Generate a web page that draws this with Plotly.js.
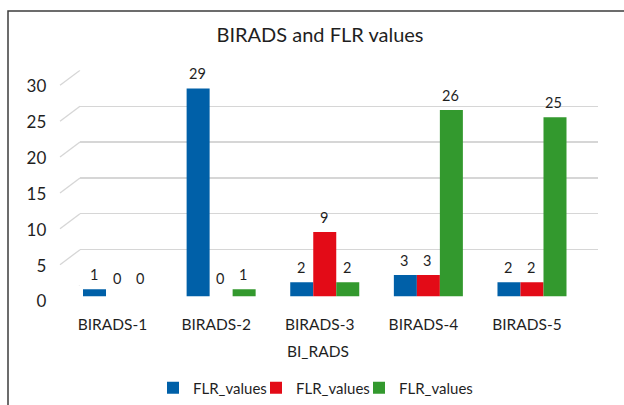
<!DOCTYPE html>
<html><head><meta charset="utf-8">
<script src="https://cdn.plot.ly/plotly-3.0.1.min.js"></script>
<style>html,body{margin:0;padding:0;background:#fff}</style>
</head><body><div id="chart" style="width:624px;height:405px"></div>
<script>
const categories = ['BIRADS-1','BIRADS-2','BIRADS-3','BIRADS-4','BIRADS-5'];
const seriesNames = ['FLR_values','FLR_values','FLR_values'];
const blueValues = [1, 29, 2, 3, 2];
const redValues = [0, 0, 9, 3, 2];
const greenValues = [0, 1, 2, 26, 25];
const yTickValues = [0, 5, 10, 15, 20, 25, 30];
const chartTitle = 'BIRADS and FLR values';
const xTitle = 'BI_RADS';

const seriesValues = [blueValues, redValues, greenValues];
const colors = ['#0060A8', '#E30B17', '#33992E'];
const W = 624, H = 405;
const px = p => p / W;
const py = p => 1 - p / H;
const FONT = 'Lato, "Open Sans", sans-serif';
const TXT = '#1f1f1f';
const GRID = '#d6d6d6';

// geometry (pixels)
const barLeft = 65.7, barRight = 583.8, barFloor = 298, barTop30 = 81.7;
const backShiftX = 20, backShiftY = 11;
const bargap = 0.334;
const catW = (barRight - barLeft) / categories.length;
const barW = catW * (1 - bargap) / seriesValues.length;
const legendIds = ['legend', 'legend2', 'legend3'];
const legendStartPx = 153, legendStepPx = 103;

const traces = [{
  type: 'scatter', x: [], y: [], xaxis: 'x', yaxis: 'y',
  showlegend: false, hoverinfo: 'skip'
}];
seriesValues.forEach((vals, i) => {
  traces.push({
    type: 'bar', x: categories, y: vals, name: seriesNames[i],
    xaxis: 'x2', yaxis: 'y2', legend: legendIds[i],
    marker: {color: colors[i], line: {width: 0}},
    hoverinfo: 'none'
  });
});

const annotations = [];
seriesValues.forEach((vals, i) => {
  vals.forEach((v, j) => {
    annotations.push({
      x: categories[j], y: v, xref: 'x2', yref: 'y2',
      text: String(v), showarrow: false,
      xanchor: 'center', yanchor: 'middle',
      xshift: (i - 1) * barW - 1,
      yshift: v === 0 ? 18 : 14.5,
      font: {family: FONT, size: 14.5, color: TXT}
    });
  });
});
annotations.push({
  text: xTitle, xref: 'paper', yref: 'paper', x: px(318), y: py(353),
  xanchor: 'center', yanchor: 'middle', showarrow: false,
  font: {family: FONT, size: 15.5, color: TXT}
});

const shapes = yTickValues.map(v => ({
  type: 'line', xref: 'paper', x0: px(barLeft - 5.7), x1: px(barLeft - 5.7 + backShiftX),
  yref: 'y', ysizemode: 'pixel', yanchor: v, y0: -15, y1: 0,
  line: {color: GRID, width: 1.3}, layer: 'below'
}));
shapes.push({
  type: 'rect', xref: 'paper', yref: 'paper',
  x0: px(8), x1: 1.05, y0: -0.05, y1: py(11),
  line: {color: '#3c3c3c', width: 1.5}, fillcolor: 'rgba(0,0,0,0)'
});

const layout = {
  width: W, height: H,
  margin: {l: 0, r: 0, t: 0, b: 0},
  paper_bgcolor: '#fff', plot_bgcolor: 'rgba(0,0,0,0)',
  font: {family: FONT, color: TXT},
  title: {
    text: chartTitle, x: px(320), y: py(35), xref: 'paper', yref: 'paper',
    xanchor: 'center', yanchor: 'middle',
    font: {family: FONT, size: 20, color: TXT}
  },
  barmode: 'group', bargap: bargap, bargroupgap: 0,
  showlegend: true,
  xaxis: {
    domain: [px(barLeft + backShiftX - 5.7), px(598)], anchor: 'y',
    range: [0, 1], visible: false, fixedrange: true
  },
  yaxis: {
    domain: [py(barFloor - backShiftY), py(barTop30 - backShiftY)], anchor: 'x',
    range: [0, 30], tickvals: yTickValues, showticklabels: false,
    showgrid: true, gridcolor: GRID, gridwidth: 1.3,
    zeroline: false, showline: false, ticks: '', fixedrange: true
  },
  xaxis2: {
    domain: [px(barLeft), px(barRight)], anchor: 'y2',
    type: 'category', showgrid: false, showline: false, zeroline: false,
    ticks: 'outside', ticklen: 14, tickcolor: 'rgba(0,0,0,0)',
    ticklabelshift: -5,
    tickfont: {family: FONT, size: 15.5, color: TXT},
    fixedrange: true
  },
  yaxis2: {
    domain: [py(barFloor), py(barTop30)], anchor: 'x2',
    range: [0, 30], tickvals: yTickValues,
    showgrid: false, zeroline: false, showline: false,
    ticks: 'outside', ticklen: 15, tickcolor: 'rgba(0,0,0,0)',
    ticklabelshift: 5,
    tickfont: {family: FONT, size: 17, color: TXT},
    fixedrange: true
  },
  annotations: annotations,
  shapes: shapes
};
legendIds.forEach((id, i) => {
  layout[id] = {
    orientation: 'h', xref: 'paper', yref: 'paper',
    x: px(legendStartPx + i * legendStepPx), xanchor: 'left',
    y: py(390), yanchor: 'middle',
    font: {family: FONT, size: 15, color: TXT},
    bgcolor: 'rgba(0,0,0,0)', borderwidth: 0
  };
});

Plotly.newPlot('chart', traces, layout, {displayModeBar: false, staticPlot: true});
</script>
</body></html>
